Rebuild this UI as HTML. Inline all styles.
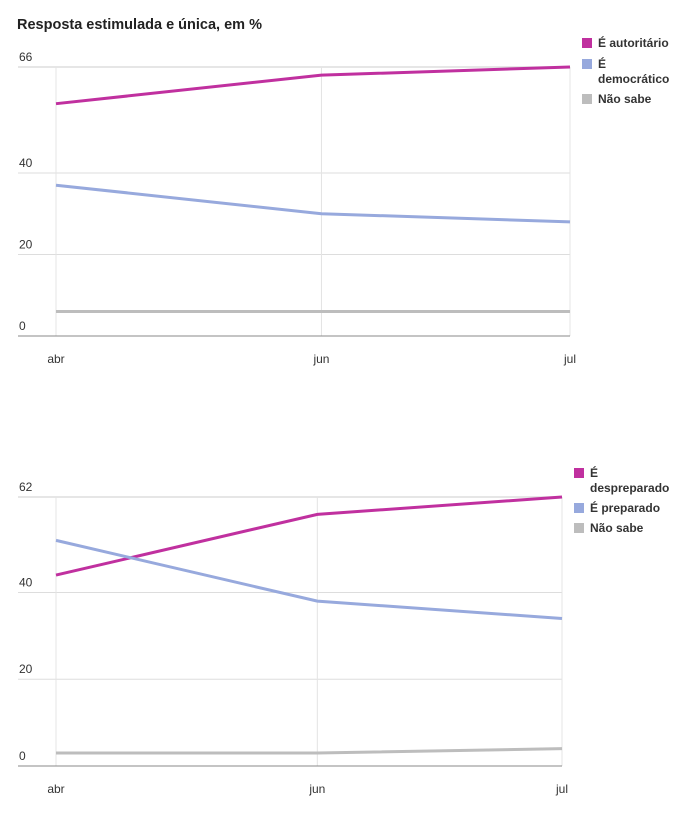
<!DOCTYPE html>
<html><head><meta charset="utf-8"><style>
body{margin:0;background:#fff;font-family:"Liberation Sans",sans-serif;}
svg text{font-family:"Liberation Sans",sans-serif;}
</style></head><body>
<svg id="s" width="690" height="813">
<text x="17" y="29" font-size="14.5" font-weight="bold" fill="#222">Resposta estimulada e única, em %</text>
</svg>
<script>
const months = ["abr","jun","jul"];
const surveyDay = [0,47,91];
const c1Names = ["É autoritário","É democrático","Não sabe"];
const c1Autoritario = [57,64,66];
const c1Democratico = [37,30,28];
const c1NaoSabe = [6,6,6];
const c1Ticks = [0,20,40,66];
const c2Names = ["É despreparado","É preparado","Não sabe"];
const c2Despreparado = [44,58,62];
const c2Preparado = [52,38,34];
const c2NaoSabe = [3,3,4];
const c2Ticks = [0,20,40,62];
const colors = ["#c0309f","#97a9dd","#bdbdbd"];
const svg = document.getElementById('s');
const NS = "http://www.w3.org/2000/svg";
function mk(t,a,txt){const e=document.createElementNS(NS,t);for(const k in a)e.setAttribute(k,a[k]);if(txt!==undefined)e.textContent=txt;svg.appendChild(e);return e;}
function chart(cfg){
  const {x0,x1,y0,yTop,max,ticks,series,legend,prefix}=cfg;
  const d0=surveyDay[0],d1=surveyDay[surveyDay.length-1];
  const xs=i=>x0+(x1-x0)*(surveyDay[i]-d0)/(d1-d0);
  const ys=v=>y0-(y0-yTop)*v/max;
  ticks.forEach(t=>{
    if(t>0){const l=mk('line',{x1:18,x2:x1,y1:ys(t),y2:ys(t),stroke:'#dddddd','stroke-width':t===max?1.5:1});
    
    }
    const tx=mk('text',{x:19,y:ys(t)-6,'font-size':12,fill:'#333'},String(t));
    
    
  });
  months.forEach((m,i)=>{
    const l=mk('line',{x1:xs(i),x2:xs(i),y1:yTop,y2:y0,stroke:'#e4e4e4','stroke-width':1});
    
    
    const tx=mk('text',{x:xs(i),y:y0+27,'font-size':12,fill:'#333','text-anchor':'middle'},m);
    
    
  });
  const ax=mk('line',{x1:18,x2:x1,y1:y0,y2:y0,stroke:'#888','stroke-width':1});
  
  
  series.forEach((s,k)=>{
    const p=mk('polyline',{points:s.map((v,i)=>xs(i)+','+ys(v)).join(' '),fill:'none',stroke:colors[k],'stroke-width':3});
    
    
  });
  legend.forEach((L,k)=>{
    const r=mk('rect',{x:L.x,y:L.y,width:10,height:10,fill:colors[k]});
    
    
    L.lines.forEach((ln,j)=>{
      const t=mk('text',{x:L.x+16,y:L.y+9+j*15,'font-size':12,'font-weight':'bold',fill:'#333'},ln);
      
      
    });
  });
}
chart({x0:56,x1:570,y0:336,yTop:67,max:66,ticks:c1Ticks,series:[c1Autoritario,c1Democratico,c1NaoSabe],prefix:'top-',
  legend:[{x:582,y:38,lines:["É autoritário"]},{x:582,y:59,lines:["É","democrático"]},{x:582,y:94,lines:["Não sabe"]}]});
chart({x0:56,x1:562,y0:766,yTop:497,max:62,ticks:c2Ticks,series:[c2Despreparado,c2Preparado,c2NaoSabe],prefix:'bottom-',
  legend:[{x:574,y:468,lines:["É","despreparado"]},{x:574,y:503,lines:["É preparado"]},{x:574,y:523,lines:["Não sabe"]}]});
</script>
</body></html>
